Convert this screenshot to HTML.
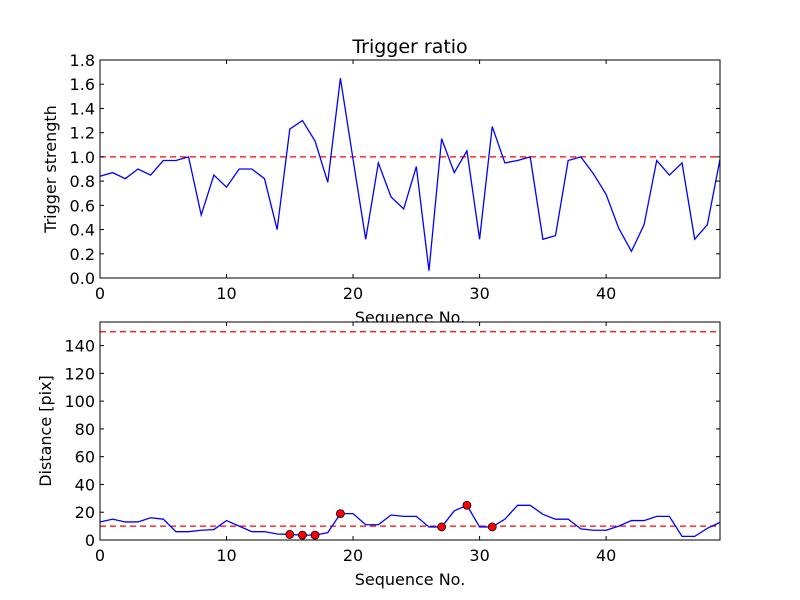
<!DOCTYPE html>
<html><head><meta charset="utf-8"><style>
html,body{margin:0;padding:0;background:#fff;}
svg{display:block;font-family:"DejaVu Sans","Liberation Sans",sans-serif;}
</style></head><body>
<svg id="chart" width="800" height="600" viewBox="0 0 800 600">
<rect width="800" height="600" fill="#fff"/>
</svg>
<script>
const seq = Array.from({length:50},(_,i)=>i);
const strength = [0.84,0.87,0.82,0.90,0.85,0.97,0.97,1.0,0.52,0.85,0.75,0.90,0.90,0.82,0.40,1.23,1.30,1.13,0.79,1.65,0.98,0.32,0.95,0.67,0.57,0.92,0.06,1.15,0.87,1.05,0.32,1.25,0.95,0.97,1.0,0.32,0.35,0.97,1.0,0.86,0.69,0.41,0.22,0.44,0.97,0.85,0.95,0.32,0.44,0.98];
const distance = [13,15,13,13,16,15,6,6,7,7.5,14,10,6,6,4.3,4,3.5,3.5,5.3,19,19,11,11,18,17,17,9.4,9.4,21,25,9.4,9.4,15,25,25,18.5,15,15,8,7,7,10,14,14,17,17,2.6,2.6,8.4,12.7];
const flagged = [15,16,17,19,27,29,31];
const strengthThreshold = [1.0];
const distanceThresholds = [10,150];
const topYTicks = ["0.0","0.2","0.4","0.6","0.8","1.0","1.2","1.4","1.6","1.8"];
const botYTicks = [0,20,40,60,80,100,120,140];
const xTicks = [0,10,20,30,40];

const NS="http://www.w3.org/2000/svg";
const svg=document.getElementById('chart');
function el(tag,attrs,parent){const e=document.createElementNS(NS,tag);for(const k in attrs)e.setAttribute(k,attrs[k]);(parent||svg).appendChild(e);return e;}

function panel(cfg){
  const g=el('g',{});
  
  
  const L=100,R=720,T=cfg.top,B=cfg.bottom;
  const xs=v=>L+(v-0)/(49-0)*(R-L);
  const ys=v=>B-(v-cfg.ymin)/(cfg.ymax-cfg.ymin)*(B-T);
  const xl=el('text',{x:410,y:B+45,'text-anchor':'middle','font-size':16,fill:'#000'},g);
  xl.textContent='Sequence No.';
  
  
  cfg.thresholds.forEach(t=>{
    const l=el('line',{x1:L,x2:R,y1:ys(t),y2:ys(t),stroke:'#ff0000','stroke-width':1.3,'stroke-dasharray':'6,4'},g);
    
    
  });
  const pts=cfg.values.map((v,i)=>xs(seq[i]).toFixed(2)+','+ys(v).toFixed(2)).join(' ');
  const pl=el('polyline',{points:pts,fill:'none',stroke:'#0000ff','stroke-width':1.3},g);
  
  
  (cfg.markers||[]).forEach(i=>{
    const c=el('circle',{cx:xs(seq[i]),cy:ys(cfg.values[i]),r:4,fill:'#ff0000',stroke:'#000','stroke-width':0.8},g);
    
    
  });
  const fr=el('rect',{x:L,y:T,width:R-L,height:B-T,fill:'none',stroke:'#000','stroke-width':1},g);
  
  
  xTicks.forEach(t=>{
    const x=xs(t);
    el('line',{x1:x,x2:x,y1:B,y2:B-4,stroke:'#000'},g);
    el('line',{x1:x,x2:x,y1:T,y2:T+4,stroke:'#000'},g);
    const tx=el('text',{x:x,y:B+21,'text-anchor':'middle','font-size':16,fill:'#000'},g);
    tx.textContent=t;
    
    
  });
  cfg.yticks.forEach(t=>{
    const y=ys(parseFloat(t));
    el('line',{x1:L,x2:L+4,y1:y,y2:y,stroke:'#000'},g);
    el('line',{x1:R,x2:R-4,y1:y,y2:y,stroke:'#000'},g);
    const tx=el('text',{x:L-5,y:y+6,'text-anchor':'end','font-size':16,fill:'#000'},g);
    tx.textContent=t;
    
    
  });
  const cy=(T+B)/2;
  const yl=el('text',{x:cfg.ylabelX,y:cy,'text-anchor':'middle','font-size':16,fill:'#000',transform:`rotate(-90 ${cfg.ylabelX} ${cy})`},g);
  yl.textContent=cfg.ylabel;
  
  
}

panel({name:'strength-panel',top:60,bottom:278,ymin:0,ymax:1.8,values:strength,thresholds:strengthThreshold,yticks:topYTicks,ylabel:'Trigger strength',ylabelX:56});
const cover=el('rect',{x:100,y:322,width:620,height:10,fill:'#fff'});


panel({name:'distance-panel',top:322,bottom:540,ymin:0,ymax:157,values:distance,thresholds:distanceThresholds,yticks:botYTicks.map(String),markers:flagged,ylabel:'Distance [pix]',ylabelX:51});

const title=el('text',{x:410,y:53,'text-anchor':'middle','font-size':19,fill:'#000'});
title.textContent='Trigger ratio';


</script>
</body></html>
